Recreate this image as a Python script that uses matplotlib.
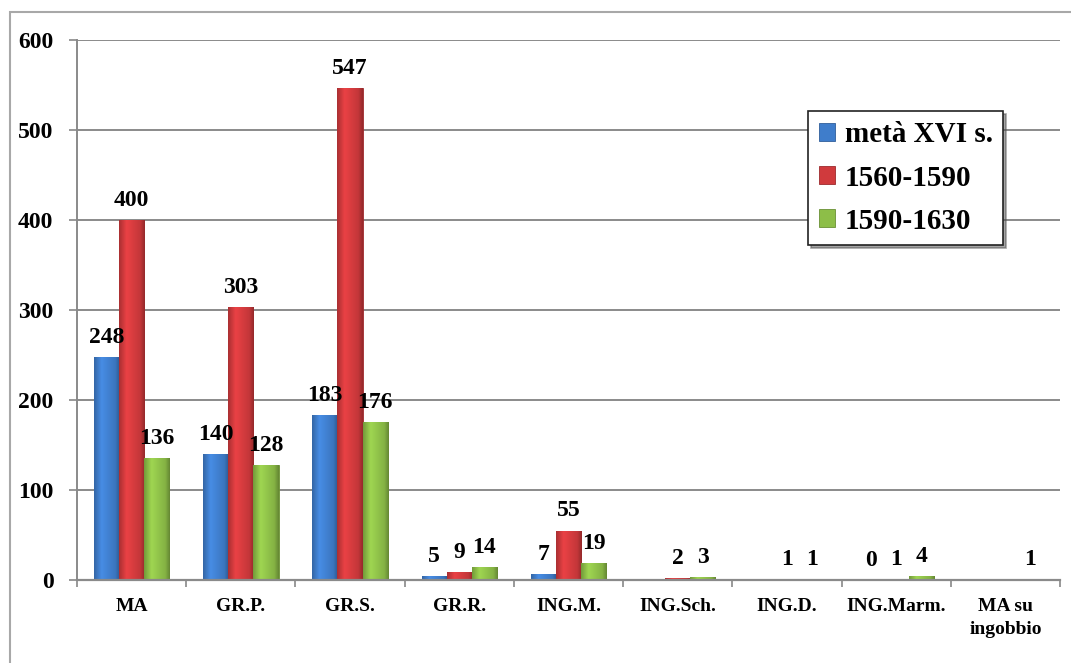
import numpy as np
import matplotlib
matplotlib.use("Agg")
import matplotlib.pyplot as plt
from matplotlib.patches import Rectangle
from matplotlib.colors import to_rgb

categories = ["MA", "GR.P.", "GR.S.", "GR.R.", "ING.M.", "ING.Sch.", "ING.D.", "ING.Marm.", "MA su\ningobbio"]
series_names = ["metà XVI s.", "1560-1590", "1590-1630"]
meta_xvi = [248, 140, 183, 5, 7, None, None, 0, None]
s1560_1590 = [400, 303, 547, 9, 55, 2, 1, 1, None]
s1590_1630 = [136, 128, 176, 14, 19, 3, 1, 4, 1]
colors = ["#3F7DCB", "#D03A3D", "#8DBE48"]
edge_colors = ["#2F5E9A", "#9C2A2D", "#6A9034"]

W, H = 1071, 663
fig = plt.figure(figsize=(W / 100, H / 100), dpi=100)
fig.patch.set_facecolor("white")

# outer chart border
fig.add_artist(Rectangle((10 / W, -0.05), 1.1, 1 - 12 / H + 0.05, transform=fig.transFigure,
                         fill=False, edgecolor="#A8A8A8", linewidth=1.5))

ax = fig.add_axes([77 / W, 1 - 580 / H, (1060 - 77) / W, (580 - 40) / H])
serif = "Liberation Serif"

# horizontal shading profile for the bevelled look
prof = np.concatenate([np.linspace(0.82, 1.12, 12), np.linspace(1.12, 0.95, 20), np.linspace(0.95, 0.72, 8)])


def shade(bar, color):
    rgb = np.array(to_rgb(color))
    img = np.clip(prof[None, :, None] * rgb[None, None, :], 0, 1)
    x0, y0 = bar.get_x(), bar.get_y()
    w, h = bar.get_width(), bar.get_height()
    if not np.isfinite(h) or h <= 0:
        return
    im = ax.imshow(img, extent=(x0, x0 + w, y0, y0 + h), aspect="auto",
                   zorder=3.5, interpolation="bilinear")
    im.set_clip_path(bar)


x = np.arange(len(categories))
bw = 0.23
series = [meta_xvi, s1560_1590, s1590_1630]
for i, (vals, name) in enumerate(zip(series, series_names)):
    v = np.array([np.nan if a is None else a for a in vals], dtype=float)
    pos = x + (i - 1) * bw
    bars = ax.bar(pos, v, width=bw, color=colors[i], edgecolor=edge_colors[i],
                  linewidth=0.6, label=name, zorder=3)
    for b in bars:
        shade(b, colors[i])
    for p, a in zip(pos, vals):
        if a is None:
            continue
        ax.text(p, a + 10, str(a), ha="center", va="bottom", fontsize=17,
                fontweight="bold", family=serif, zorder=5)

ax.set_xlim(-0.5, len(categories) - 0.5)
ax.set_ylim(0, 600)
ax.set_yticks(range(0, 601, 100))
ax.set_xticks(np.arange(-0.5, len(categories) + 0.5, 1.0), minor=False)
ax.set_xticklabels([])
ax.set_xticks(x, minor=True)
ax.set_xticklabels(categories, minor=True, fontsize=14, fontweight="bold", family=serif,
                   linespacing=1.45)
ax.tick_params(axis="x", which="minor", length=0, pad=13)
ax.tick_params(axis="x", which="major", length=5, color="#888888", width=1.2, direction="out")
ax.tick_params(axis="y", length=6, color="#888888", width=1.2, pad=11, direction="out")
for lbl in ax.get_yticklabels():
    lbl.set_fontsize(17)
    lbl.set_fontweight("bold")
    lbl.set_family(serif)

ax.grid(axis="y", color="#8A8A8A", linewidth=1.4, zorder=0)
ax.set_axisbelow(True)
for s in ["top", "right"]:
    ax.spines[s].set_visible(False)
ax.spines["left"].set_color("#8A8A8A")
ax.spines["left"].set_linewidth(1.4)
ax.spines["bottom"].set_color("#8A8A8A")
ax.spines["bottom"].set_linewidth(1.6)
ax.spines["bottom"].set_zorder(4)

leg = ax.legend(loc="upper left", bbox_to_anchor=(0.744, 0.868), frameon=True,
                fancybox=False, shadow=True, prop={"family": serif, "weight": "bold", "size": 21},
                handlelength=0.55, handleheight=0.55, handletextpad=0.35, labelspacing=0.55,
                borderpad=0.35, borderaxespad=0)
leg.get_frame().set_edgecolor("#222222")
leg.get_frame().set_linewidth(1.2)
leg.set_zorder(10)

fig.savefig("out.png", dpi=100, facecolor="white")
